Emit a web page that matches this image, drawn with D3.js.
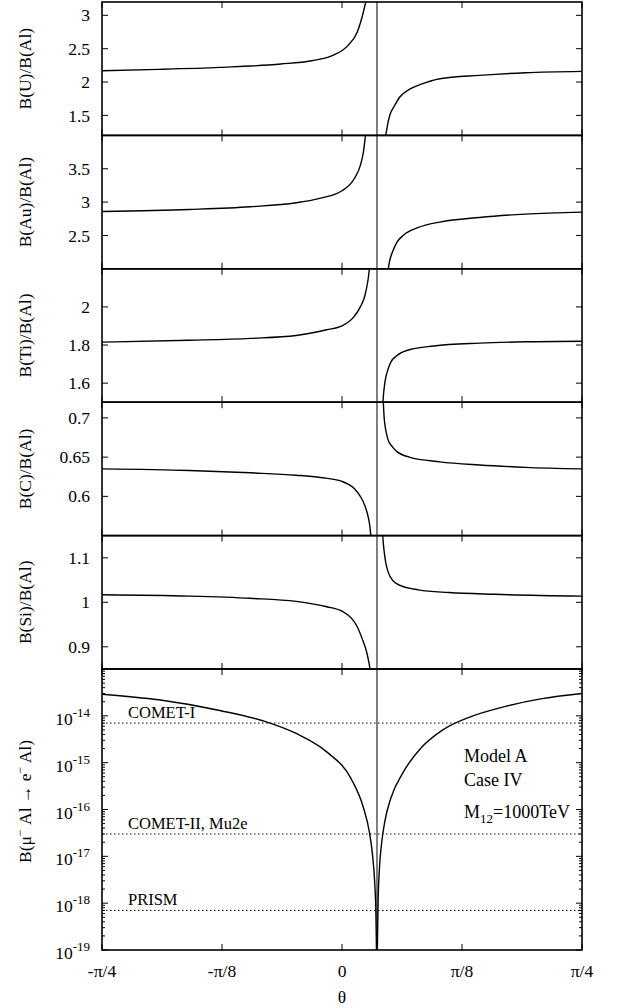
<!DOCTYPE html>
<html>
<head>
<meta charset="utf-8">
<script src="https://cdn.jsdelivr.net/npm/d3@7"></script>
<style>
  body { margin: 0; background: #fff; }
  text { font-family: "Liberation Serif", "Times New Roman", serif; fill: #000; }
</style>
</head>
<body>
<div id="chart"></div>
<script>
// x axis (theta) ticks
const thetaTicks = [-Math.PI / 4, -Math.PI / 8, 0, Math.PI / 8, Math.PI / 4];
const thetaTickLabels = ["-π/4", "-π/8", "0", "π/8", "π/4"];
const poleTheta = 0.1145;

// B(U)/B(Al)
const uLeftTheta = [-0.785, -0.6, -0.4, -0.2, -0.1, -0.03, 0.02, 0.05, 0.07, 0.08];
const uLeftRatio = [2.17, 2.19, 2.22, 2.27, 2.32, 2.40, 2.55, 2.75, 3.05, 3.25];
const uRightTheta = [0.140, 0.145, 0.150, 0.157, 0.170, 0.190, 0.220, 0.255, 0.320, 0.450, 0.600, 0.785];
const uRightRatio = [1.15, 1.25, 1.38, 1.51, 1.63, 1.78, 1.89, 1.96, 2.05, 2.10, 2.14, 2.16];
const uTicks = [1.5, 2, 2.5, 3];

// B(Au)/B(Al)
const auLeftTheta = [-0.785, -0.5, -0.3, -0.15, -0.07, 0, 0.04, 0.06, 0.07, 0.078];
const auLeftRatio = [2.86, 2.89, 2.93, 2.99, 3.06, 3.17, 3.35, 3.55, 3.75, 4.05];
const auRightTheta = [0.15, 0.155, 0.165, 0.18, 0.2, 0.25, 0.32, 0.45, 0.6, 0.785];
const auRightRatio = [1.95, 2.1, 2.25, 2.4, 2.5, 2.62, 2.7, 2.77, 2.82, 2.85];
const auTicks = [2.5, 3, 3.5];

// B(Ti)/B(Al)
const tiLeftTheta = [-0.785, -0.5, -0.3, -0.15, -0.05, 0, 0.04, 0.06, 0.075, 0.085, 0.092];
const tiLeftRatio = [1.815, 1.825, 1.835, 1.85, 1.88, 1.9, 1.95, 2.0, 2.06, 2.14, 2.23];
const tiRightTheta = [0.133, 0.137, 0.142, 0.15, 0.16, 0.18, 0.22, 0.3, 0.45, 0.6, 0.785];
const tiRightRatio = [1.48, 1.56, 1.62, 1.67, 1.71, 1.745, 1.775, 1.795, 1.81, 1.817, 1.82];
const tiTicks = [1.6, 1.8, 2];

// B(C)/B(Al)
const cLeftTheta = [-0.785, -0.5, -0.3, -0.15, -0.07, 0, 0.04, 0.06, 0.075, 0.085, 0.09, 0.095];
const cLeftRatio = [0.635, 0.633, 0.63, 0.627, 0.624, 0.619, 0.61, 0.6, 0.588, 0.575, 0.565, 0.548];
const cRightTheta = [0.134, 0.138, 0.143, 0.15, 0.165, 0.18, 0.22, 0.32, 0.45, 0.6, 0.785];
const cRightRatio = [0.73, 0.70, 0.685, 0.673, 0.663, 0.657, 0.65, 0.644, 0.64, 0.637, 0.635];
const cTicks = [0.6, 0.65, 0.7];

// B(Si)/B(Al)
const siLeftTheta = [-0.785, -0.5, -0.3, -0.15, -0.05, 0, 0.03, 0.05, 0.065, 0.08, 0.088, 0.093];
const siLeftRatio = [1.017, 1.014, 1.009, 1.002, 0.99, 0.98, 0.965, 0.945, 0.92, 0.89, 0.865, 0.845];
const siRightTheta = [0.132, 0.137, 0.143, 0.15, 0.165, 0.19, 0.25, 0.35, 0.5, 0.785];
const siRightRatio = [1.16, 1.12, 1.09, 1.07, 1.05, 1.038, 1.028, 1.022, 1.018, 1.014];
const siTicks = [0.9, 1, 1.1];

// B(mu- Al -> e- Al)
const alLeftTheta = [-0.785, -0.6, -0.4, -0.25, -0.15, -0.05, 0.03, 0.07, 0.09, 0.1, 0.107, 0.111, 0.1135];
const alLeftBR = [2.9e-14, 2.2e-14, 1.3e-14, 7.5e-15, 4.2e-15, 1.7e-15, 4.5e-16, 1.1e-16, 3.2e-17, 1.05e-17, 2.8e-18, 5.8e-19, 5e-20];
const alRightTheta = [0.1155, 0.118, 0.122, 0.13, 0.14, 0.16, 0.2, 0.26, 0.33, 0.42, 0.52, 0.65, 0.785];
const alRightBR = [8.5e-20, 1.0e-18, 4.8e-18, 2.0e-17, 5.5e-17, 1.76e-16, 6.2e-16, 2.1e-15, 5.0e-15, 9.5e-15, 1.5e-14, 2.3e-14, 3.0e-14];
const alExponents = [-19, -18, -17, -16, -15, -14];

// experimental sensitivities
const expNames = ["COMET-I", "COMET-II, Mu2e", "PRISM"];
const expLimits = [7e-15, 3e-17, 7e-19];

// layout
const width = 630, height = 1008;
const left = 102, right = 582;
const top0 = 2, smallH = 133.4, bottomY = 950;

const svg = d3.select("#chart").append("svg")
  .attr("width", width)
  .attr("height", height);

const x = d3.scaleLinear()
  .domain([-Math.PI / 4, Math.PI / 4])
  .range([left, right]);

const zip = (a, b) => a.map((t, i) => [t, b[i]]);

const panels = [
  { label: "B(U)/B(Al)", domain: [1.2, 3.2], ticks: uTicks,
    branches: [zip(uLeftTheta, uLeftRatio), zip(uRightTheta, uRightRatio)] },
  { label: "B(Au)/B(Al)", domain: [2, 4], ticks: auTicks,
    branches: [zip(auLeftTheta, auLeftRatio), zip(auRightTheta, auRightRatio)] },
  { label: "B(Ti)/B(Al)", domain: [1.5, 2.2], ticks: tiTicks,
    branches: [zip(tiLeftTheta, tiLeftRatio), zip(tiRightTheta, tiRightRatio)] },
  { label: "B(C)/B(Al)", domain: [0.55, 0.72], ticks: cTicks,
    branches: [zip(cLeftTheta, cLeftRatio), zip(cRightTheta, cRightRatio)] },
  { label: "B(Si)/B(Al)", domain: [0.85, 1.15], ticks: siTicks,
    branches: [zip(siLeftTheta, siLeftRatio), zip(siRightTheta, siRightRatio)] }
];

const defs = svg.append("defs");

function xTicks(g, y0, y1) {
  thetaTicks.forEach(t => {
    g.append("line").attr("x1", x(t)).attr("x2", x(t))
      .attr("y1", y1).attr("y2", y1 - 6).attr("stroke", "#000").attr("stroke-width", 1);
    g.append("line").attr("x1", x(t)).attr("x2", x(t))
      .attr("y1", y0).attr("y2", y0 + 6).attr("stroke", "#000").attr("stroke-width", 1);
  });
}

// linear ratio panels
panels.forEach((p, i) => {
  const y0 = top0 + i * smallH;
  const y1 = y0 + smallH;
  const y = d3.scaleLinear().domain(p.domain).range([y1, y0]);
  const g = svg.append("g");

  defs.append("clipPath").attr("id", "clip" + i)
    .append("rect").attr("x", left).attr("y", y0).attr("width", right - left).attr("height", y1 - y0);

  const line = d3.line()
    .x(d => x(d[0]))
    .y(d => y(d[1]))
    .curve(d3.curveMonotoneX);

  p.branches.forEach(b => {
    g.append("path")
      .datum(b)
      .attr("clip-path", `url(#clip${i})`)
      .attr("fill", "none")
      .attr("stroke", "#000")
      .attr("stroke-width", 1.4)
      .attr("d", line);
  });

  p.ticks.forEach(v => {
    g.append("line").attr("x1", left).attr("x2", left + 6)
      .attr("y1", y(v)).attr("y2", y(v)).attr("stroke", "#000");
    g.append("line").attr("x1", right).attr("x2", right - 6)
      .attr("y1", y(v)).attr("y2", y(v)).attr("stroke", "#000");
    g.append("text")
      .attr("x", 90).attr("y", y(v)).attr("dy", "0.35em")
      .attr("text-anchor", "end")
      .style("font-size", "17.5px")
      .text(v);
  });

  xTicks(g, y0, y1);

  g.append("rect")
    .attr("x", left).attr("y", y0)
    .attr("width", right - left).attr("height", y1 - y0)
    .attr("fill", "none").attr("stroke", "#000").attr("stroke-width", 1.6);

  g.append("text")
    .attr("transform", `translate(31,${(y0 + y1) / 2}) rotate(-90)`)
    .attr("text-anchor", "middle")
    .style("font-size", "17.5px")
    .text(p.label);
});

// bottom log panel
const yTop = top0 + 5 * smallH;
const yLog = d3.scaleLog().domain([1e-19, 1e-13]).range([bottomY, yTop]);
const gb = svg.append("g");

defs.append("clipPath").attr("id", "clipLog")
  .append("rect").attr("x", left).attr("y", yTop).attr("width", right - left).attr("height", bottomY - yTop);

// experimental lines and names
expLimits.forEach((v, i) => {
  gb.append("line")
    .attr("x1", left).attr("x2", right)
    .attr("y1", yLog(v)).attr("y2", yLog(v))
    .attr("stroke", "#000").attr("stroke-width", 1)
    .attr("stroke-dasharray", "1.5,2.5");
  gb.append("text")
    .attr("x", 128).attr("y", yLog(v) - 5)
    .style("font-size", "16.5px")
    .text(expNames[i]);
});

const logLine = d3.line()
  .x(d => x(d[0]))
  .y(d => yLog(d[1]))
  .curve(d3.curveMonotoneX);

[zip(alLeftTheta, alLeftBR), zip(alRightTheta, alRightBR)].forEach(b => {
  gb.append("path")
    .datum(b)
    .attr("clip-path", "url(#clipLog)")
    .attr("fill", "none")
    .attr("stroke", "#000")
    .attr("stroke-width", 1.4)
    .attr("d", logLine);
});

// log ticks
alExponents.forEach(e => {
  const v = Math.pow(10, e);
  gb.append("line").attr("x1", left).attr("x2", left + 6).attr("y1", yLog(v)).attr("y2", yLog(v)).attr("stroke", "#000");
  gb.append("line").attr("x1", right).attr("x2", right - 6).attr("y1", yLog(v)).attr("y2", yLog(v)).attr("stroke", "#000");
  for (let m = 2; m <= 9; m++) {
    const mv = m * v;
    gb.append("line").attr("x1", left).attr("x2", left + 3).attr("y1", yLog(mv)).attr("y2", yLog(mv)).attr("stroke", "#000");
    gb.append("line").attr("x1", right).attr("x2", right - 3).attr("y1", yLog(mv)).attr("y2", yLog(mv)).attr("stroke", "#000");
  }
  const t = gb.append("text")
    .attr("x", 90).attr("y", yLog(v) + 9)
    .attr("text-anchor", "end")
    .style("font-size", "17.5px");
  t.append("tspan").text("10");
  t.append("tspan").attr("dy", -8).style("font-size", "13px").text(e < 0 ? "-" + (-e) : e);
});

xTicks(gb, yTop, bottomY);

gb.append("rect")
  .attr("x", left).attr("y", yTop)
  .attr("width", right - left).attr("height", bottomY - yTop)
  .attr("fill", "none").attr("stroke", "#000").attr("stroke-width", 1.6);

// x tick labels
thetaTicks.forEach((t, i) => {
  gb.append("text")
    .attr("x", x(t)).attr("y", 977)
    .attr("text-anchor", "middle")
    .style("font-size", "17.5px")
    .text(thetaTickLabels[i]);
});

gb.append("text")
  .attr("x", (left + right) / 2).attr("y", 1003)
  .attr("text-anchor", "middle")
  .style("font-size", "17.5px")
  .text("θ");

// y label of log panel
const yl = gb.append("text")
  .attr("transform", `translate(31,${(yTop + bottomY) / 2 - 8}) rotate(-90)`)
  .attr("text-anchor", "middle")
  .style("font-size", "17.5px");
yl.append("tspan").text("B(μ");
yl.append("tspan").attr("dy", -7).style("font-size", "12px").text("−");
yl.append("tspan").attr("dy", 7).text(" Al → e");
yl.append("tspan").attr("dy", -7).style("font-size", "12px").text("−");
yl.append("tspan").attr("dy", 7).text(" Al)");

// model annotation
gb.append("text").attr("x", 464).attr("y", 762).style("font-size", "18px").text("Model A");
gb.append("text").attr("x", 464).attr("y", 786).style("font-size", "18px").text("Case IV");
const mt = gb.append("text").attr("x", 464).attr("y", 818).style("font-size", "18px");
mt.append("tspan").text("M");
mt.append("tspan").attr("dy", 5).style("font-size", "13px").text("12");
mt.append("tspan").attr("dy", -5).text("=1000TeV");

// pole line across all panels
svg.append("line")
  .attr("x1", x(poleTheta)).attr("x2", x(poleTheta))
  .attr("y1", top0).attr("y2", bottomY)
  .attr("stroke", "#000").attr("stroke-width", 1);
</script>
</body>
</html>
